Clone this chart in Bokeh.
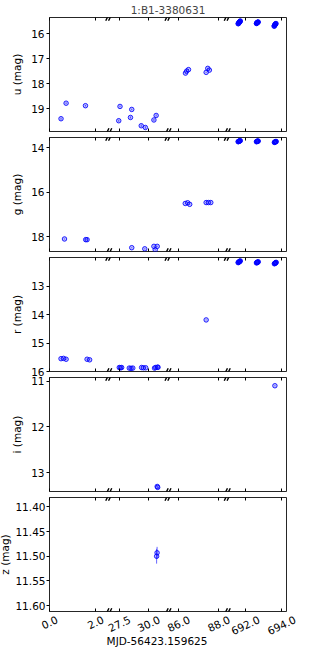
import numpy as np
from bokeh.plotting import figure
from bokeh.models import (Range1d, FixedTicker, LinearAxis, ColumnDataSource, Arrow,
                          CustomJSTickFormatter, PrintfTickFormatter)
from bokeh.core.properties import value
from bokeh.layouts import column
from bokeh.embed import file_html
from bokeh.resources import INLINE

# ---------------- data ----------------
TITLE = "1:B1-3380631"
X_LABEL = "MJD-56423.159625"

SEG_LO = [0.0, 26.6, 85.47, 691.0]
SEG_HI = [2.57, 31.65, 88.42, 694.27]
X_TICKS = [0.0, 2.0, 27.5, 30.0, 86.0, 88.0, 692.0, 694.0]
X_TICK_LABELS = ["0.0", "2.0", "27.5", "30.0", "86.0", "88.0", "692.0", "694.0"]

u_t = [0.50, 0.72, 1.56,
       27.45, 27.56, 28.45, 28.56, 29.37, 29.72, 30.45, 30.64,
       86.34, 86.40, 86.49, 87.37, 87.45, 87.53,
       691.60, 691.62, 691.63, 691.65, 691.66, 691.68, 691.69, 691.71, 691.72,
       692.61, 692.62, 692.64, 692.65, 692.66, 692.68, 692.69, 692.71,
       693.59, 693.60, 693.61, 693.63, 693.64, 693.66, 693.67, 693.69]
u_mag = [19.40, 18.78, 18.88,
         19.48, 18.91, 19.35, 19.03, 19.68, 19.75, 19.45, 19.27,
         17.58, 17.50, 17.44, 17.55, 17.39, 17.46,
         15.61, 15.60, 15.58, 15.57, 15.55, 15.54, 15.53, 15.51, 15.50,
         15.60, 15.59, 15.58, 15.57, 15.56, 15.55, 15.55, 15.54,
         15.71, 15.69, 15.67, 15.66, 15.64, 15.63, 15.61, 15.60]
u_err = [0.04, 0.03, 0.03,
         0.04, 0.03, 0.04, 0.03, 0.05, 0.05, 0.04, 0.04,
         0.02, 0.02, 0.02, 0.02, 0.02, 0.02,
         0.01, 0.01, 0.01, 0.01, 0.01, 0.01, 0.01, 0.01, 0.01,
         0.01, 0.01, 0.01, 0.01, 0.01, 0.01, 0.01, 0.01,
         0.01, 0.01, 0.01, 0.01, 0.01, 0.01, 0.01, 0.01]

g_t = [0.65, 1.57, 1.63,
       28.56, 29.67, 30.45, 30.56, 30.73,
       86.33, 86.45, 86.55, 87.37, 87.48, 87.60,
       691.60, 691.62, 691.64, 691.66, 691.68, 691.70, 691.72,
       692.61, 692.63, 692.65, 692.67, 692.69, 692.71,
       693.60, 693.62, 693.64, 693.66, 693.68, 693.70]
g_mag = [18.09, 18.12, 18.12,
         18.48, 18.53, 18.42, 18.57, 18.42,
         16.50, 16.47, 16.54, 16.46, 16.46, 16.46,
         13.74, 13.73, 13.72, 13.71, 13.70, 13.70, 13.69,
         13.74, 13.73, 13.72, 13.72, 13.71, 13.71,
         13.77, 13.76, 13.75, 13.74, 13.73, 13.73]
g_err = [0.02, 0.02, 0.02,
         0.02, 0.02, 0.02, 0.03, 0.02,
         0.01, 0.01, 0.01, 0.01, 0.01, 0.01,
         0.01, 0.01, 0.01, 0.01, 0.01, 0.01, 0.01,
         0.01, 0.01, 0.01, 0.01, 0.01, 0.01,
         0.01, 0.01, 0.01, 0.01, 0.01, 0.01]

r_t = [0.50, 0.61, 0.72, 1.63, 1.74,
       27.50, 27.60, 27.70, 28.35, 28.50, 28.65, 29.40, 29.55, 29.75,
       30.50, 30.60, 30.75, 30.80,
       87.37,
       691.60, 691.62, 691.64, 691.66, 691.68, 691.70, 691.72,
       692.61, 692.63, 692.65, 692.67, 692.69, 692.71,
       693.60, 693.62, 693.64, 693.66, 693.68, 693.70]
r_mag = [15.55, 15.54, 15.57, 15.57, 15.59,
         15.86, 15.87, 15.86, 15.88, 15.89, 15.88, 15.86, 15.87, 15.87,
         15.88, 15.86, 15.85, 15.85,
         14.19,
         12.18, 12.17, 12.16, 12.15, 12.14, 12.13, 12.12,
         12.19, 12.18, 12.17, 12.17, 12.16, 12.15,
         12.22, 12.21, 12.20, 12.19, 12.18, 12.17]
r_err = [0.02, 0.02, 0.02, 0.02, 0.02,
         0.01, 0.01, 0.01, 0.01, 0.01, 0.01, 0.01, 0.01, 0.01,
         0.01, 0.01, 0.01, 0.01,
         0.01,
         0.01, 0.01, 0.01, 0.01, 0.01, 0.01, 0.01,
         0.01, 0.01, 0.01, 0.01, 0.01, 0.01,
         0.01, 0.01, 0.01, 0.01, 0.01, 0.01]

i_t = [30.73, 30.77, 693.63]
i_mag = [13.30, 13.32, 11.10]
i_err = [0.01, 0.01, 0.01]

z_t = [30.68, 30.72]
z_mag = [11.500, 11.493]
z_err = [0.015, 0.012]

BANDS = ["u", "g", "r", "i", "z"]
Y_LIMS = {"u": (19.91, 15.36), "g": (18.65, 13.55), "r": (16.0, 12.0),
          "i": (13.41, 10.92), "z": (11.612, 11.381)}
Y_TICKS = {"u": [16, 17, 18, 19], "g": [14, 16, 18], "r": [13, 14, 15, 16],
           "i": [11, 12, 13], "z": [11.40, 11.45, 11.50, 11.55, 11.60]}
DATA = {"u": (u_t, u_mag, u_err), "g": (g_t, g_mag, g_err), "r": (r_t, r_mag, r_err),
        "i": (i_t, i_mag, i_err), "z": (z_t, z_mag, z_err)}

# ---------------- styling / layout ----------------
FONT = "DejaVu Sans"
FSPX = 10.5
FS = f"{FSPX}px"
LEFT, RIGHT = 57, 14
FW, FH = 237, 114
NSEG = len(SEG_LO)
BORDER = 7
OVERLAP = 8
ANG = 0.44
LAB_H = 36
EXT_L = 20
CENTER_SHIFT = -11


def to_disp(x):
    for k, (lo, hi) in enumerate(zip(SEG_LO, SEG_HI)):
        if lo <= x <= hi:
            return k + (x - lo) / (hi - lo)
    return np.nan


tick_disp = [to_disp(v) for v in X_TICKS]
blank = CustomJSTickFormatter(code="return '';")
pxx = NSEG / FW


def style_x(ax):
    ax.ticker = FixedTicker(ticks=tick_disp, minor_ticks=[])
    ax.major_tick_in = 3
    ax.major_tick_out = 0
    ax.minor_tick_in = 0
    ax.minor_tick_out = 0
    ax.axis_line_color = None
    ax.major_tick_line_color = "black"
    ax.formatter = blank
    ax.major_label_standoff = 0
    ax.major_label_text_font_size = "0px"


panels = []
for idx, b in enumerate(BANDS):
    first = idx == 0
    ylo, yhi = Y_LIMS[b]
    p = figure(frame_width=FW, frame_height=FH, x_range=Range1d(0, NSEG),
               y_range=Range1d(ylo, yhi), output_backend="svg", toolbar_location=None,
               min_border_left=LEFT, min_border_right=RIGHT,
               min_border_top=0 if first else BORDER, min_border_bottom=BORDER)
    if not first:
        p.styles = {"margin-top": f"-{OVERLAP}px"}
    p.xgrid.grid_line_color = None
    p.ygrid.grid_line_color = None
    p.outline_line_color = "black"
    p.outline_line_alpha = 0.85
    p.background_fill_color = "white"
    p.border_fill_color = None

    style_x(p.xaxis[0])
    top = LinearAxis()
    style_x(top)
    p.add_layout(top, "above")

    ya = p.yaxis[0]
    ya.ticker = FixedTicker(ticks=Y_TICKS[b], minor_ticks=[])
    if b == "z":
        ya.formatter = PrintfTickFormatter(format="%.2f")
    ya.major_tick_out = 3
    ya.major_tick_in = 0
    ya.minor_tick_out = 0
    ya.minor_tick_in = 0
    ya.axis_line_color = None
    ya.major_label_standoff = 1 if b == "z" else 2
    ya.major_label_text_font_size = FS
    ya.major_label_text_font = FONT
    ya.major_label_text_color = "black"
    ya.axis_label = f"{b} (mag)"
    ya.axis_label_standoff = 1 if b == "z" else 5
    ya.axis_label_text_font_size = FS
    ya.axis_label_text_font = FONT
    ya.axis_label_text_font_style = "normal"
    ya.axis_label_text_color = "black"

    t, m, e = DATA[b]
    m = np.array(m)
    e = np.array(e)
    src = ColumnDataSource(dict(x=[to_disp(v) for v in t], y=m, lo=m - e, hi=m + e))
    p.segment("x", "lo", "x", "hi", source=src, line_color="blue", line_alpha=0.6, line_width=1)
    p.scatter("x", "y", source=src, marker="circle", size=4.5, line_color="blue",
              fill_color="blue", fill_alpha=0.25, line_alpha=0.85, line_width=1)

    # break marks "//" on top and bottom edges
    pxy = (ylo - yhi) / FH
    x0, y0, x1, y1 = [], [], [], []
    for k in range(1, NSEG):
        for off in (-1.4, 1.4):
            for edge in (ylo, yhi):
                x0.append(k + (off - 1.6) * pxx)
                x1.append(k + (off + 1.6) * pxx)
                y0.append(edge + 3.2 * pxy)
                y1.append(edge - 3.2 * pxy)
    bsrc = ColumnDataSource(dict(x0=x0, y0=y0, x1=x1, y1=y1))
    p.add_layout(Arrow(end=None, start=None, x_start="x0", y_start="y0", x_end="x1",
                       y_end="y1", source=bsrc, line_color="black", line_width=1.4))

    if first:
        p.title.text = TITLE
        p.title.align = "center"
        p.title.offset = CENTER_SHIFT
        p.title.text_font_size = FS
        p.title.text_font = FONT
        p.title.text_font_style = "normal"
        p.title.standoff = 3
    panels.append(p)


# ---- strip under the last panel: rotated tick labels (centred on ticks) + x label ----
def est_width(s):
    return sum(0.318 if ch == "." else 0.636 for ch in s) * FSPX


lab_y = [4 + (est_width(s) * np.sin(ANG) + 7.2 * np.cos(ANG)) / 2 for s in X_TICK_LABELS]
q = figure(frame_width=FW + EXT_L + RIGHT, frame_height=LAB_H,
           x_range=Range1d(-EXT_L * pxx, NSEG + RIGHT * pxx),
           y_range=Range1d(LAB_H, 0), output_backend="svg", toolbar_location=None,
           x_axis_type=None, y_axis_type=None, min_border_left=LEFT - EXT_L,
           min_border_right=0, min_border_top=0, min_border_bottom=0)
q.frame_align = False
q.styles = {"margin-top": f"-{BORDER}px"}
q.grid.grid_line_color = None
q.outline_line_color = None
q.background_fill_color = None
q.border_fill_color = None
q.text(x=tick_disp, y=lab_y, text=X_TICK_LABELS, angle=ANG, text_align="center",
       text_baseline="middle", text_font=value(FONT), text_font_size=value(FS),
       text_color="black")
q.text(x=[NSEG / 2 + CENTER_SHIFT * pxx], y=[29], text=[X_LABEL], text_align="center",
       text_baseline="middle", text_font=value(FONT), text_font_size=value(FS),
       text_color="black")
panels.append(q)

layout = column(*panels, spacing=0, styles={"margin-left": "-8px"})
open("out.html", "w").write(file_html(layout, INLINE))
